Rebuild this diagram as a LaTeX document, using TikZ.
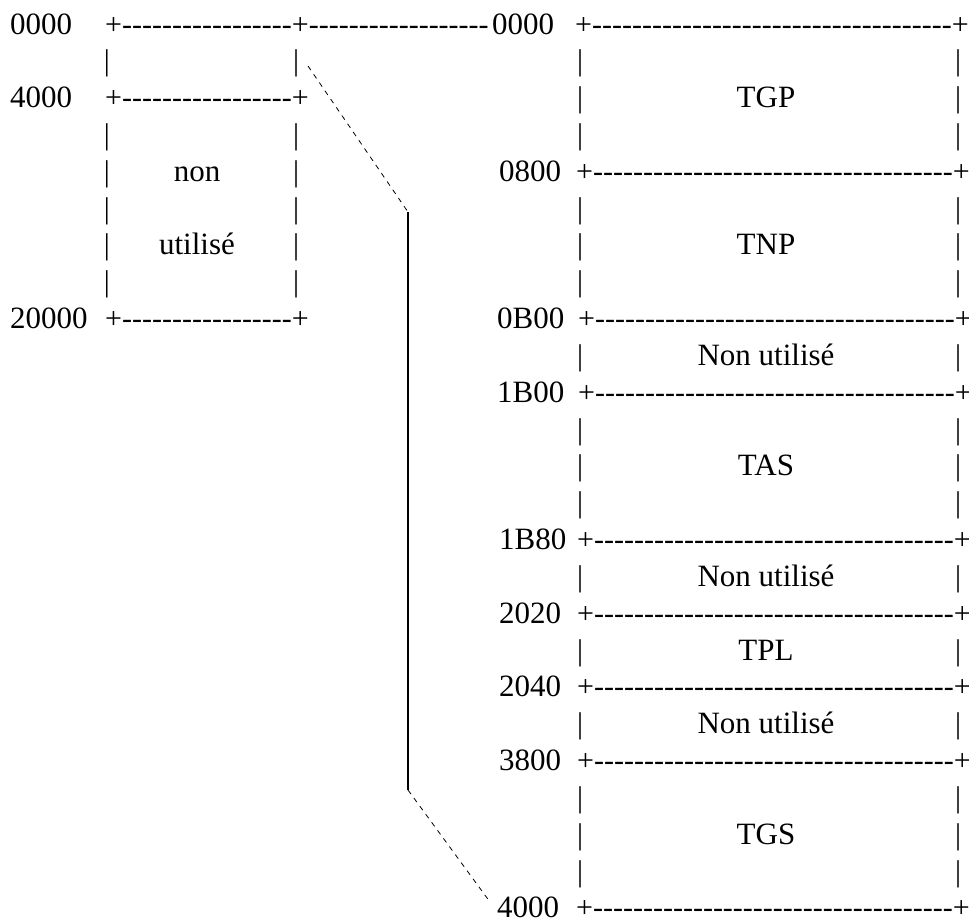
\documentclass[tikz,border=0pt]{standalone}
\usepackage{fontspec}
\setmainfont{Liberation Serif}
\ExplSyntaxOn
\NewDocumentCommand\hyph{m}{\prg_replicate:nn{#1}{-\kern0pt}}
\ExplSyntaxOff
\begin{document}
\begin{tikzpicture}[x=1pt,y=-1pt,
  every node/.style={inner sep=0pt,font=\fontsize{30}{36}\selectfont},
  lw/.style={anchor=base west},
  ct/.style={anchor=base},
  big/.style={font=\fontsize{31}{36}\selectfont},
  dline/.style={draw,line width=0.8pt,dash pattern=on 5pt off 5pt},
  sline/.style={draw,line width=1.2pt}]
\useasboundingbox (0,0) rectangle (969,922);
% left box
\node[lw,big] (l0) at (10,{34+36.83*0}) {0000};
\node[lw] (ltop) at (105,{34+36.83*0}) {+\hyph{17}+\hyph{18}};
\node[lw,big] (l2) at (10,{34+36.83*2}) {4000};
\node[lw] (lmid) at (105,{34+36.83*2}) {+\hyph{17}+};
\node[lw,big] (l8) at (10,{34+36.83*8}) {20000};
\node[lw] (lbot) at (105,{34+36.83*8}) {+\hyph{17}+};
\foreach \k in {1,3,4,5,6,7}{
  \node[ct] (ll\k) at (107,{34+36.83*\k}) {|};
  \node[ct] (lr\k) at (296,{34+36.83*\k}) {|};
}
\node[ct,big] (non) at (197,{34+36.83*4}) {non};
\node[ct,big] (util) at (197,{34+36.83*6}) {utilisé};
% right box
\node[lw,big] (r0) at (492,{34+36.83*0}) {0000};
\foreach \k/\lab/\lx/\px in {4/0800/499/576,8/0B00/497/578,10/1B00/497/578,14/1B80/499/577,16/2020/499/577,18/2040/499/577,20/3800/499/577,24/4000/497/576}{
  \node[lw,big] (lab\k) at (\lx,{34+36.83*\k}) {\lab};
  \node[lw] (pl\k) at (\px,{34+36.83*\k}) {+\hyph{36}+};
}
\node[lw] (pl0) at (575,{34+36.83*0}) {+\hyph{36}+};
\foreach \k in {1,2,3,5,6,7,9,11,12,13,15,17,19,21,22,23}{
  \node[ct] (rl\k) at (580,{34+36.83*\k}) {|};
  \node[ct] (rr\k) at (958,{34+36.83*\k}) {|};
}
\node[ct,big] (tgp) at (766,{34+36.83*2}) {TGP};
\node[ct,big] (tnp) at (766,{34+36.83*6}) {TNP};
\node[ct,big] (nu1) at (766,{34+36.83*9}) {Non utilisé};
\node[ct,big] (tas) at (766,{34+36.83*12}) {TAS};
\node[ct,big] (nu2) at (766,{34+36.83*15}) {Non utilisé};
\node[ct,big] (tpl) at (766,{34+36.83*17}) {TPL};
\node[ct,big] (nu3) at (766,{34+36.83*19}) {Non utilisé};
\node[ct,big] (tgs) at (766,{34+36.83*22}) {TGS};
% connectors
\coordinate (a) at (308,66);
\coordinate (b) at (408,212);
\coordinate (c) at (408,790);
\coordinate (d) at (490,902);
\path[dline] (a) -- (b);
\path[sline] (b) -- (c);
\path[dline] (c) -- (d);
\end{tikzpicture}
\end{document}
